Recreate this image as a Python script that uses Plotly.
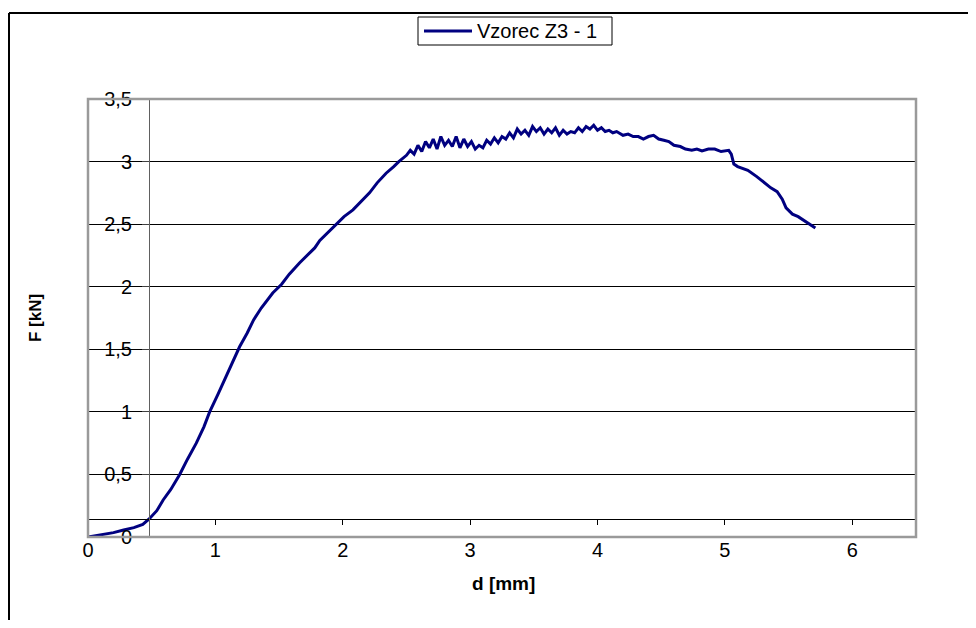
import plotly.graph_objects as go

series_name = "Vzorec Z3 - 1"
d_mm = [0, 0.1, 0.2, 0.28, 0.36, 0.43, 0.48, 0.54, 0.59, 0.65, 0.72, 0.78, 0.85, 0.91, 0.955,
        1.02, 1.08, 1.14, 1.19, 1.25, 1.30, 1.36, 1.42, 1.45, 1.52, 1.58, 1.66, 1.72, 1.78, 1.82,
        1.88, 1.95, 2.01, 2.08, 2.14, 2.21, 2.27, 2.34, 2.40, 2.44,
        2.50, 2.53, 2.56, 2.59, 2.62, 2.65, 2.68, 2.71, 2.74, 2.77, 2.80, 2.83, 2.86, 2.89, 2.92,
        2.95, 2.98, 3.01, 3.04, 3.07, 3.10, 3.13, 3.16, 3.19, 3.22, 3.25, 3.28, 3.31, 3.34, 3.37,
        3.40, 3.43, 3.46, 3.49, 3.52, 3.55, 3.58, 3.61, 3.64, 3.67, 3.70, 3.73, 3.76, 3.79, 3.82,
        3.85, 3.88, 3.91, 3.94, 3.97, 4.00, 4.03, 4.06, 4.09, 4.12, 4.15, 4.20, 4.24, 4.28, 4.32,
        4.36, 4.40, 4.44, 4.48, 4.52, 4.56, 4.60, 4.65, 4.69, 4.74, 4.78, 4.82, 4.87, 4.92, 4.97,
        5.03, 5.05, 5.07, 5.10, 5.18, 5.25, 5.31, 5.36, 5.41, 5.45, 5.48, 5.53, 5.575, 5.65, 5.71]
F_kN = [0, 0.015, 0.035, 0.056, 0.075, 0.10, 0.144, 0.21, 0.296, 0.38, 0.50, 0.62, 0.75, 0.88, 1.0,
        1.14, 1.27, 1.40, 1.52, 1.63, 1.735, 1.83, 1.91, 1.95, 2.02, 2.10, 2.19, 2.25, 2.31, 2.37,
        2.43, 2.494, 2.56, 2.614, 2.68, 2.75, 2.83, 2.907, 2.96, 3.0,
        3.05, 3.09, 3.06, 3.13, 3.08, 3.16, 3.11, 3.18, 3.10, 3.20, 3.13, 3.17, 3.12, 3.20, 3.11,
        3.18, 3.12, 3.16, 3.10, 3.13, 3.11, 3.17, 3.14, 3.19, 3.15, 3.20, 3.18, 3.23, 3.19, 3.26,
        3.22, 3.25, 3.21, 3.28, 3.24, 3.27, 3.22, 3.26, 3.23, 3.27, 3.21, 3.25, 3.22, 3.24, 3.23,
        3.27, 3.24, 3.28, 3.26, 3.29, 3.25, 3.27, 3.24, 3.25, 3.23, 3.24, 3.21, 3.22, 3.20, 3.20,
        3.18, 3.20, 3.21, 3.18, 3.17, 3.16, 3.13, 3.12, 3.10, 3.09, 3.10, 3.085, 3.10, 3.10, 3.08,
        3.09, 3.06, 2.98, 2.96, 2.93, 2.88, 2.83, 2.79, 2.76, 2.70, 2.63, 2.58, 2.56, 2.51, 2.47]

x_ticks = [0, 1, 2, 3, 4, 5, 6]
y_ticks = [0, 0.5, 1, 1.5, 2, 2.5, 3, 3.5]

FONT = "Liberation Sans, Arial, sans-serif"
LINE_COLOR = "#000080"

fig = go.Figure()
fig.add_trace(go.Scatter(x=d_mm, y=F_kN, mode="lines", name=series_name,
                         showlegend=False,
                         line=dict(color=LINE_COLOR, width=3)))

# page body has an 8px margin; work in screen pixels
OFF = 8
W, H = 960, 612
SL, SR, ST, SB = 88, 916, 99, 537          # plot area in screen px
L, T = SL - OFF, ST - OFF
R = W - (SR - OFF)
B = H - (SB - OFF)
pw, ph = SR - SL, SB - ST


def px(sx):
    return (sx - SL) / pw


def py(sy):
    return (SB - sy) / ph


fig.update_layout(
    width=W, height=H,
    margin=dict(l=L, r=R, t=T, b=B, pad=0, autoexpand=False),
    paper_bgcolor="white", plot_bgcolor="white",
    separators=", ",
    font=dict(family=FONT, size=20, color="black"),
    showlegend=False,
    xaxis=dict(range=[0, 6.5], tickvals=x_ticks, showgrid=False, zeroline=False,
               anchor="free", position=py(519),
               showline=True, linecolor="black", linewidth=1,
               ticks="outside", ticklen=5, tickcolor="black", tickwidth=1,
               ticklabelstandoff=8, tickfont=dict(size=20)),
    yaxis=dict(range=[0, 3.5], tickvals=y_ticks, showgrid=True, gridcolor="black", gridwidth=1,
               zeroline=False, anchor="free", position=px(149),
               showline=True, linecolor="#606060", linewidth=1,
               ticks="outside", ticklen=7, tickcolor="#404040", tickwidth=1,
               ticklabelstandoff=6, tickfont=dict(size=20)),
    shapes=[
        # plot-area frame
        dict(type="rect", xref="paper", yref="paper", x0=0, x1=1, y0=0, y1=1,
             line=dict(color="#9a9a9a", width=2.5)),
        # chart-area frame (left and top edges visible)
        dict(type="line", xref="paper", yref="paper", x0=px(9), x1=px(9),
             y0=py(620), y1=py(13), line=dict(color="black", width=2)),
        dict(type="line", xref="paper", yref="paper", x0=px(9), x1=px(968),
             y0=py(13), y1=py(13), line=dict(color="black", width=2)),
        # legend box and sample line
        dict(type="rect", xref="paper", yref="paper", x0=px(418), x1=px(612),
             y0=py(45), y1=py(17), line=dict(color="black", width=1),
             fillcolor="white", layer="above"),
        dict(type="line", xref="paper", yref="paper", x0=px(424), x1=px(472),
             y0=py(31), y1=py(31), line=dict(color=LINE_COLOR, width=3)),
    ],
    annotations=[
        dict(text=series_name, xref="paper", yref="paper", x=px(475), y=py(31),
             xanchor="left", yanchor="middle", showarrow=False,
             font=dict(size=20)),
        dict(text="<b>F [kN]</b>", xref="paper", yref="paper", x=px(35), y=py(318),
             xanchor="center", yanchor="middle",
             textangle=-90, showarrow=False, font=dict(size=17)),
        dict(text="<b>d [mm]</b>", xref="paper", yref="paper", x=px(503),
             y=py(583), xanchor="center", yanchor="middle",
             showarrow=False, font=dict(size=19)),
    ],
)

fig.write_html("out.html")
